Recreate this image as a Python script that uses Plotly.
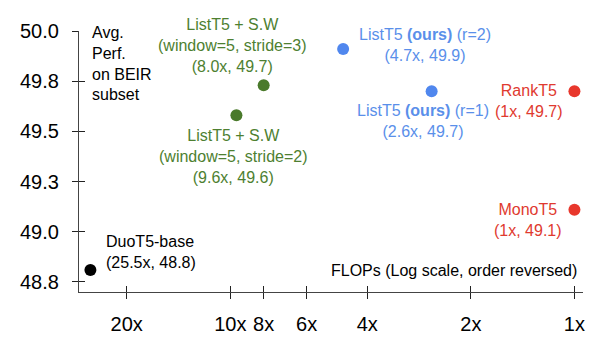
import math
import plotly.graph_objects as go

# ---- data ----
models = ["DuoT5-base", "ListT5 + S.W (stride=3)", "ListT5 + S.W (stride=2)",
          "ListT5 (ours) (r=2)", "ListT5 (ours) (r=1)", "RankT5", "MonoT5"]
flops = [25.5, 8.0, 9.6, 4.7, 2.6, 1.0, 1.0]
perf = [48.81, 49.73, 49.58, 49.91, 49.70, 49.70, 49.11]
labels = [
    "DuoT5-base<br>(25.5x, 48.8)",
    "ListT5 + S.W<br>(window=5, stride=3)<br>(8.0x, 49.7)",
    "ListT5 + S.W<br>(window=5, stride=2)<br>(9.6x, 49.6)",
    "ListT5 <b>(ours)</b> (r=2)<br>(4.7x, 49.9)",
    "ListT5 <b>(ours)</b> (r=1)<br>(2.6x, 49.7)",
    "RankT5<br>(1x, 49.7)",
    "MonoT5<br>(1x, 49.1)",
]
colors = ["#000000", "#4a7a2b", "#4a7a2b", "#5087ee", "#5087ee", "#e8372c", "#e8372c"]
text_colors = ["#000000", "#4e7f31", "#4e7f31", "#5a8fea", "#5a8fea", "#e03a2f", "#e03a2f"]

x_tickvals = [20, 10, 8, 6, 4, 2, 1]
x_ticktext = ["20x", "10x", "8x", "6x", "4x", "2x", "1x"]
y_tickvals = [48.75, 49.0, 49.25, 49.5, 49.75, 50.0]
y_ticktext = ["48.8", "49.0", "49.3", "49.5", "49.8", "50.0"]

# label layout: (xanchor, xshift, yshift, align)
label_pos = [
    ("left", 14, 18, "left"),
    ("center", -31, 40, "center"),
    ("center", -3, -41, "center"),
    ("center", 82, 4, "center"),
    ("center", -9, -30, "center"),
    ("center", -45, -10, "center"),
    ("center", -46, -10, "center"),
]

FONT = "Liberation Sans, Arial, Helvetica, sans-serif"
x_range = [1.4397, -0.0249]
y_range = [48.70, 50.0]

fig = go.Figure()
fig.add_trace(go.Scatter(
    x=flops, y=perf, mode="markers",
    marker=dict(size=12, color=colors, line=dict(width=0)),
    hoverinfo="skip", showlegend=False,
))
# invisible trace to activate overlay axes (crossing tick marks)
fig.add_trace(go.Scatter(x=[1], y=[49], xaxis="x2", yaxis="y2",
                         mode="markers", marker=dict(opacity=0),
                         hoverinfo="skip", showlegend=False))

for i in range(len(models)):
    xa, xs, ys, al = label_pos[i]
    fig.add_annotation(
        x=math.log10(flops[i]), y=perf[i], xref="x", yref="y",
        text=labels[i], showarrow=False, xanchor=xa, yanchor="middle",
        align=al, xshift=xs, yshift=ys,
        font=dict(family=FONT, size=16, color=text_colors[i]),
    )

fig.add_annotation(
    x=0, y=1, xref="paper", yref="paper", xanchor="left", yanchor="middle",
    xshift=11, yshift=-32, align="left", showarrow=False,
    text="Avg.<br>Perf.<br>on BEIR<br>subset",
    font=dict(family=FONT, size=16, color="#000000"),
)
fig.add_annotation(
    x=1, y=0, xref="paper", yref="paper", xanchor="right", yanchor="middle",
    xshift=-4, yshift=22, align="right", showarrow=False,
    text="FLOPs (Log scale, order reversed)",
    font=dict(family=FONT, size=16, color="#000000"),
)

axis_common = dict(showgrid=False, zeroline=False, showline=True,
                   linecolor="#444444", linewidth=1.2,
                   tickcolor="#222222", tickwidth=1.2)

# page body has an 8px default margin, so the figure is sized to fill the rest
fig.update_layout(
    width=589, height=339,
    margin=dict(l=63, r=14, t=14, b=40),
    paper_bgcolor="white", plot_bgcolor="white",
    font=dict(family=FONT, color="#000000"),
    xaxis=dict(type="log", range=x_range, tickvals=x_tickvals, ticktext=x_ticktext,
               ticks="outside", ticklen=6, ticklabelstandoff=8,
               tickfont=dict(family=FONT, size=20, color="#000000"), **axis_common),
    yaxis=dict(range=y_range, tickvals=y_tickvals, ticktext=y_ticktext,
               ticks="outside", ticklen=6, ticklabelstandoff=9,
               tickfont=dict(family=FONT, size=20, color="#000000"), **axis_common),
    xaxis2=dict(type="log", range=x_range, tickvals=x_tickvals, overlaying="x",
                anchor="y", side="bottom", ticks="inside", ticklen=6,
                showticklabels=False, **axis_common),
    yaxis2=dict(range=y_range, tickvals=y_tickvals, overlaying="y",
                anchor="x", side="left", ticks="inside", ticklen=6,
                showticklabels=False, **axis_common),
)

fig.write_html("out.html")
